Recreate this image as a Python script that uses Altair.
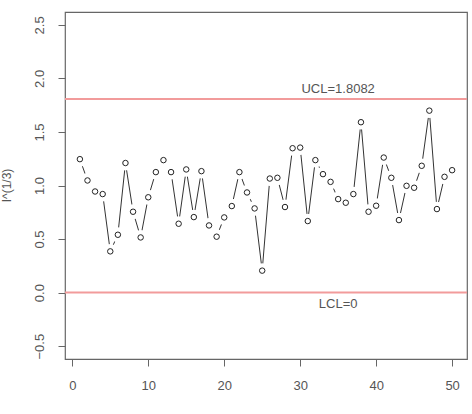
import altair as alt
import pandas as pd

# Data
sample = list(range(1, 51))
values = [1.246, 1.047, 0.944, 0.920, 0.385, 0.540, 1.210, 0.755, 0.515, 0.890,
          1.125, 1.237, 1.125, 0.643, 1.150, 0.705, 1.134, 0.627, 0.522, 0.702,
          0.808, 1.125, 0.935, 0.786, 0.205, 1.065, 1.072, 0.799, 1.348, 1.354,
          0.668, 1.237, 1.106, 1.034, 0.873, 0.839, 0.920, 1.591, 0.755, 0.811,
          1.261, 1.072, 0.677, 0.997, 0.979, 1.184, 1.699, 0.780, 1.081, 1.143]
limit_values = [1.8082, 0.0]
limit_labels = ["UCL=1.8082", "LCL=0"]
label_x = [35, 35]
x_ticks = [0, 10, 20, 30, 40, 50]
y_ticks = [-0.5, 0.0, 0.5, 1.0, 1.5, 2.0, 2.5]

df = pd.DataFrame({"sample": sample, "value": values})
lim = pd.DataFrame({"y": limit_values, "label": limit_labels, "x": label_x})

FONT = "Liberation Sans"
GREY = "#555555"

xs = alt.Scale(domain=[-0.96, 51.96], nice=False, zero=False)
ys = alt.Scale(domain=[-0.62, 2.62], nice=False, zero=False)

x_enc = alt.X("sample:Q", scale=xs, title=None,
              axis=alt.Axis(values=x_ticks, labelFont=FONT, labelFontSize=13,
                            labelColor=GREY, tickColor="#666666", tickSize=7,
                            domain=False, grid=False, labelPadding=13,
                            labelFlush=False))
y_enc = alt.Y("value:Q", scale=ys, title="I^(1/3)",
              axis=alt.Axis(values=y_ticks, format=".1f", labelFont=FONT,
                            labelFontSize=13, labelColor=GREY,
                            tickColor="#666666", tickSize=7, domain=False,
                            grid=False, labelAngle=270, labelAlign="center",
                            labelBaseline="bottom", labelPadding=12,
                            labelFlush=False, titleFont=FONT, titleFontSize=12,
                            titleColor=GREY, titleFontWeight="normal",
                            titleAngle=270, titleAlign="center",
                            titleBaseline="top", titleX=-64, titleY=173))

base = alt.Chart(df)

line = base.mark_line(color="#333333", strokeWidth=1).encode(x=x_enc, y=y_enc)
gaps = base.mark_point(shape="circle", filled=True, color="white", size=220,
                       opacity=1).encode(x="sample:Q", y="value:Q")
pts = base.mark_point(shape="circle", filled=False, color="#222222", size=30,
                      strokeWidth=1, opacity=1).encode(x="sample:Q", y="value:Q")

rules = alt.Chart(lim).mark_rule(color="#F29B9B", strokeWidth=2).encode(
    y=alt.Y("y:Q", scale=ys))

ucl_text = alt.Chart(lim).transform_filter(alt.datum.y > 0).mark_text(
    font=FONT, fontSize=13, color=GREY, baseline="bottom", dy=-3).encode(
    x=alt.X("x:Q", scale=xs), y=alt.Y("y:Q", scale=ys), text="label:N")
lcl_text = alt.Chart(lim).transform_filter(alt.datum.y <= 0).mark_text(
    font=FONT, fontSize=13, color=GREY, baseline="top", dy=5).encode(
    x=alt.X("x:Q", scale=xs), y=alt.Y("y:Q", scale=ys), text="label:N")

chart = alt.layer(rules, line, gaps, pts, ucl_text, lcl_text).properties(
    width=402, height=347,
    autosize=alt.AutoSizeParams(type="none"),
    padding={"left": 65, "top": 12, "right": 5, "bottom": 55},
    background="white",
).configure_view(stroke="#666666", strokeWidth=1.2)

chart.save("out.html", embed_options={"renderer": "svg", "actions": False})
